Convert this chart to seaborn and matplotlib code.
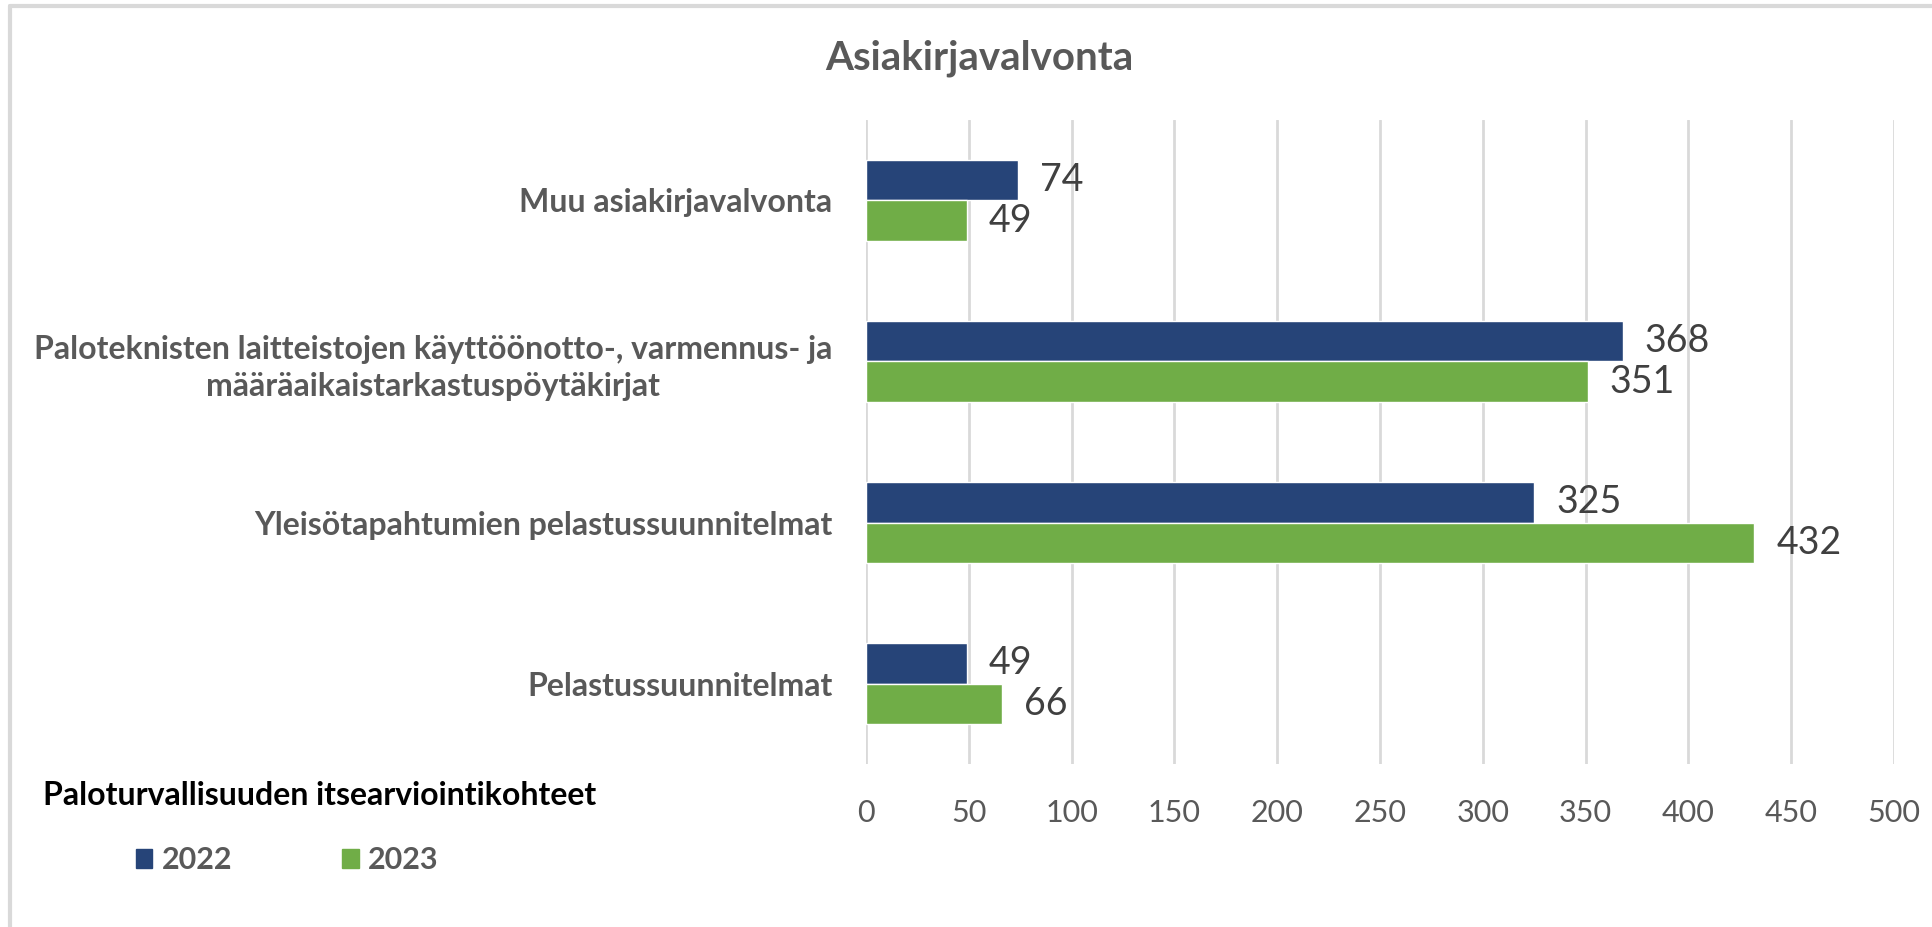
import matplotlib
matplotlib.use("Agg")
import matplotlib.pyplot as plt
import matplotlib.patches as mpatches
from matplotlib.lines import Line2D
import pandas as pd
import seaborn as sns

# ── Data ──────────────────────────────────────────────────────────────────────
categories = [
    "Muu asiakirjavalvonta",
    "Paloteknisten laitteistojen käyttöönotto-, varmennus- ja\nmääräaikaistarkastuspöytäkirjat",
    "Yleisötapahtumien pelastussuunnitelmat",
    "Pelastussuunnitelmat",
]
years = ["2022", "2023"]
values_2022 = [74, 368, 325, 49]
values_2023 = [49, 351, 432, 66]
x_ticks = [0, 50, 100, 150, 200, 250, 300, 350, 400, 450, 500]

# ── Palette ───────────────────────────────────────────────────────────────────
NAVY  = "#264478"
GREEN = "#70AD47"
GRAY  = "#595959"
DARK  = "#404040"
GRID  = "#D9D9D9"

df = pd.DataFrame({
    "category": categories * 2,
    "year": [years[0]] * len(categories) + [years[1]] * len(categories),
    "value": values_2022 + values_2023,
})

sns.set_style("white")
plt.rcParams["font.family"] = ["Lato", "DejaVu Sans"]

fig = plt.figure(figsize=(19.32, 9.27), dpi=100, facecolor="white")
ax = fig.add_axes([0.4482, 0.1758, 0.9803 - 0.4482, 0.8706 - 0.1758])

sns.barplot(data=df, y="category", x="value", hue="year", hue_order=years,
            order=categories, palette=[NAVY, GREEN], orient="h", width=0.5,
            saturation=1, legend=False, ax=ax)

for cont in ax.containers:
    ax.bar_label(cont, padding=16, fontsize=27, color=DARK)

ax.set_xlim(0, 500)
ax.set_ylim(3.5, -0.5)
ax.set_xticks(x_ticks)
ax.set_xlabel("")
ax.set_ylabel("")
ax.grid(True, axis="x", color=GRID, linewidth=2)
ax.set_axisbelow(True)
for s in ax.spines.values():
    s.set_visible(False)
ax.tick_params(axis="x", length=0, pad=25, labelsize=22, labelcolor=GRAY)
ax.tick_params(axis="y", length=0, pad=24, labelsize=23, labelcolor=GRAY)
for lbl in ax.get_yticklabels():
    lbl.set_fontweight("bold")
    lbl.set_horizontalalignment("right")
    lbl.set_multialignment("center")
    lbl.set_linespacing(1.35)

fig.text(0.507, 0.937, "Asiakirjavalvonta", ha="center", va="center",
         fontsize=29, fontweight="bold", color=GRAY)
fig.text(0.022, 0.142, "Paloturvallisuuden itsearviointikohteet", ha="left",
         va="center", fontsize=23, fontweight="bold", color="black")

handles = [mpatches.Patch(color=NAVY, label=years[0]),
           mpatches.Patch(color=GREEN, label=years[1])]
leg = fig.legend(handles=handles, loc="center left", bbox_to_anchor=(0.056, 0.072),
                 ncol=2, frameon=False, handlelength=0.55, handleheight=0.55,
                 handletextpad=0.3, columnspacing=3.6,
                 prop={"size": 22, "weight": "bold"})
for t in leg.get_texts():
    t.set_color(GRAY)

# chart-area border (top and left edges only are visible in the crop)
fig.add_artist(Line2D([0.005, 1], [0.994, 0.994], transform=fig.transFigure,
                      color=GRID, linewidth=3))
fig.add_artist(Line2D([0.005, 0.005], [0, 0.994], transform=fig.transFigure,
                      color=GRID, linewidth=3))

fig.savefig("out.png", dpi=100, facecolor="white")
